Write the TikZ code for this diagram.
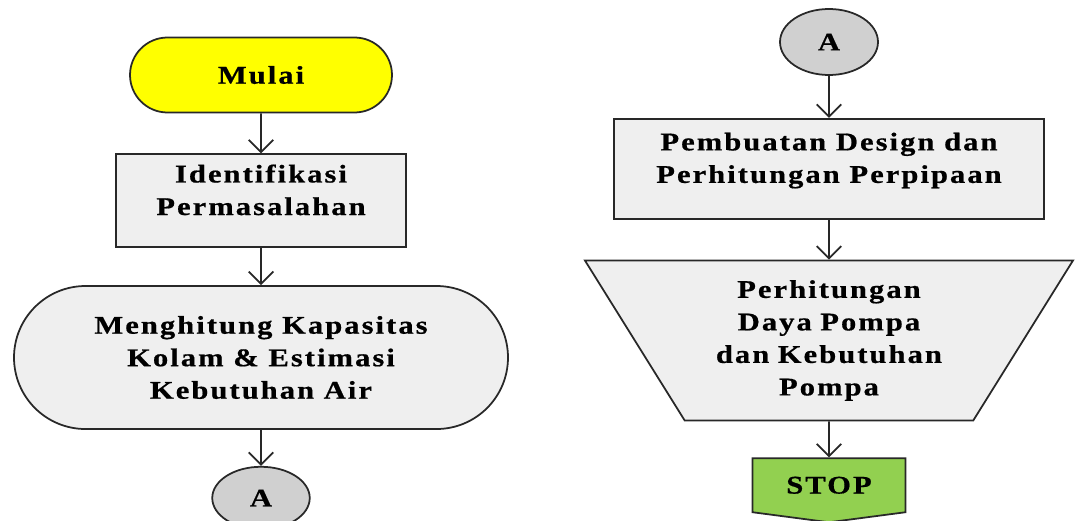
\documentclass[tikz,border=0pt]{standalone}
\usepackage{fontspec}
\setmainfont{Liberation Serif}[FakeStretch=1.2,LetterSpace=8,FakeBold=0.6]
\usepackage{tikz}
\usetikzlibrary{arrows.meta,positioning,shapes.geometric,shapes.symbols,shapes.misc}
\definecolor{startyellow}{RGB}{255,255,0}
\definecolor{boxgray}{RGB}{239,239,239}
\definecolor{conngray}{RGB}{208,208,208}
\definecolor{stopgreen}{RGB}{146,208,80}
\definecolor{linegray}{RGB}{40,40,40}

\begin{document}
\begin{tikzpicture}[
    font=\bfseries\fontsize{14.5}{18.5}\selectfont,
    >={Straight Barb[length=7pt,width=14pt]},
    flow/.style={->, line width=1pt, draw=linegray},
    base/.style={draw=linegray, line width=1pt, align=center, inner sep=2pt},
    term/.style={base, rounded rectangle},
    procbox/.style={base, rectangle, fill=boxgray},
    connA/.style={base, ellipse, fill=conngray, minimum width=1.95cm, minimum height=1.25cm}
  ]
  \useasboundingbox (0,0) rectangle (21.5,-10.42);
  % left column
  \node[term, fill=startyellow, minimum width=5.38cm, minimum height=1.5cm] (mulai) at (5.22,-1.5) {Mulai};
  \node[procbox, below=0.8cm of mulai, minimum width=5.8cm, minimum height=1.86cm] (ident) {Identifikasi\\Permasalahan\\[-6pt]};
  \node[term, fill=boxgray, below=0.74cm of ident, minimum width=10.02cm, minimum height=2.86cm] (hitung) {Menghitung Kapasitas\\Kolam \& Estimasi\\Kebutuhan Air};
  \node[connA, below=0.72cm of hitung] (ka) {A};
  \draw[flow] (mulai) -- (ident);
  \draw[flow] (ident) -- (hitung);
  \draw[flow] (hitung) -- (ka);
  % right column
  \node[connA, minimum width=1.96cm, minimum height=1.32cm] (kb) at (16.58,-0.84) {A};
  \node[procbox, below=0.84cm of kb, minimum width=8.6cm, minimum height=2.0cm] (design) {Pembuatan Design dan\\Perhitungan Perpipaan\\[-6pt]};
  \node[base, trapezium, shape border rotate=180, trapezium left angle=52, trapezium right angle=52,
        trapezium stretches body=true, fill=boxgray, text width=5cm, minimum width=9.76cm, minimum height=3.2cm,
        below=0.8cm of design] (daya)
        {Perhitungan\\Daya Pompa\\dan Kebutuhan\\Pompa};
  \node[base, signal, signal to=south, signal from=nowhere, signal pointer angle=165,
        fill=stopgreen, minimum width=3.06cm, minimum height=1.2cm, below=0.72cm of daya] (stop) {STOP};
  \draw[flow] (kb) -- (design);
  \draw[flow] (design) -- (daya);
  \draw[flow] (daya) -- (stop);
\end{tikzpicture}
\end{document}
